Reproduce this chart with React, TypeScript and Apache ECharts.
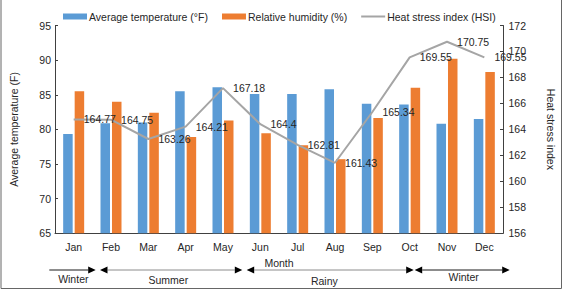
import React, { useEffect, useRef } from "react";
import * as echarts from "echarts";

const months = ["Jan", "Feb", "Mar", "Apr", "May", "Jun", "Jul", "Aug", "Sep", "Oct", "Nov", "Dec"];
const avgTemperature = [79.35, 80.9, 81.0, 85.5, 86.1, 85.1, 85.1, 85.8, 83.7, 83.6, 80.8, 81.5];
const relHumidity = [85.5, 84.0, 82.4, 78.9, 81.3, 79.45, 77.7, 75.7, 81.65, 86.0, 90.2, 88.3];
const heatStress = [164.77, 164.75, 163.26, 164.21, 167.18, 164.4, 162.81, 161.43, 165.34, 169.55, 170.75, 169.55];

const seriesNames = ["Average temperature (°F)", "Relative humidity (%)", "Heat stress index (HSI)"];

// Season bands below the month axis: [label, left tip, right tip, left head?, line colour, label x, label y]
const seasons: [string, number, number, boolean, string, number, number][] = [
  ["Winter", 49.3, 95.7, false, "#1a1a1a", 73.3, 279.3],
  ["Summer", 100, 242.3, true, "#8c8c8c", 168.3, 280],
  ["Rainy", 246.7, 413.7, true, "#8c8c8c", 324.3, 280.7],
  ["Winter", 414.7, 509.7, true, "#1a1a1a", 463.7, 277.3],
];

const FONT = "'Liberation Sans', Arial, sans-serif";
const TEXT = "#262626";
const FS = 10.5;

function seasonGraphics() {
  const out: any[] = [];
  const y = 270;
  const head = 7.5;
  const half = 3.5;
  seasons.forEach(([name, x0, x1, leftHead, col, tx, ty]) => {
    const ls = leftHead ? x0 + head : x0;
    const le = x1 - head;
    out.push({
      type: "line",
      shape: { x1: ls, y1: y, x2: le, y2: y },
      style: { stroke: col, lineWidth: 1 },
      silent: true,
    });
    out.push({
      type: "polygon",
      shape: { points: [[x1, y], [x1 - head, y - half], [x1 - head, y + half]] },
      style: { fill: "#000" },
      silent: true,
    });
    if (leftHead) {
      out.push({
        type: "polygon",
        shape: { points: [[x0, y], [x0 + head, y - half], [x0 + head, y + half]] },
        style: { fill: "#000" },
        silent: true,
      });
    }
    out.push({
      type: "text",
      x: tx,
      y: ty,
      style: {
        text: name,
        fill: TEXT,
        font: `${FS}px ${FONT}`,
        align: "center",
        verticalAlign: "middle",
      },
      silent: true,
    });
  });
  // frame around the figure
  out.push({
    type: "polyline",
    shape: { points: [[1, 0], [1, 288.5], [561.5, 288.5], [561.5, 0]] },
    style: { stroke: "#666", lineWidth: 1, fill: "none" },
    silent: true,
  });
  return out;
}

export default function App() {
  const ref = useRef<HTMLDivElement>(null);

  useEffect(() => {
    if (!ref.current) return;
    const chart = echarts.init(ref.current, undefined, { renderer: "svg" });
    chart.setOption({
      animation: false,
      backgroundColor: "#ffffff",
      textStyle: { fontFamily: FONT, color: TEXT },
      legend: {
        top: 6,
        left: 58,
        itemWidth: 24,
        itemHeight: 6,
        itemGap: 14,
        textStyle: { fontSize: FS, color: TEXT, fontFamily: FONT, padding: [0, 0, 0, -3] },
        data: [
          { name: seriesNames[0], icon: "rect" },
          { name: seriesNames[1], icon: "rect" },
          {
            name: seriesNames[2],
            icon: "path://M0,0 L24,0 L24,2 L0,2 Z",
            itemStyle: { color: "#A5A5A5" },
          },
        ],
      },
      grid: { left: 47.5, right: 57.5, top: 25.5, bottom: 56.7, containLabel: false },
      xAxis: {
        type: "category",
        data: months,
        name: "Month",
        nameLocation: "middle",
        nameGap: 20,
        nameTextStyle: { fontSize: FS, color: TEXT, fontFamily: FONT },
        axisLine: { lineStyle: { color: "#404040", width: 1 } },
        axisTick: { show: false },
        axisLabel: { fontSize: FS, color: TEXT, margin: 8, fontFamily: FONT },
      },
      yAxis: [
        {
          type: "value",
          min: 65,
          max: 95,
          interval: 5,
          position: "left",
          name: "Average temperature (F)",
          nameLocation: "middle",
          nameGap: 36,
          nameTextStyle: { fontSize: FS, color: TEXT, fontFamily: FONT },
          axisLine: { show: true, lineStyle: { color: "#404040", width: 1 } },
          axisTick: { show: true, inside: true, length: 3, lineStyle: { color: "#404040" } },
          axisLabel: { fontSize: FS, color: TEXT, margin: 4, fontFamily: FONT },
          splitLine: { show: false },
        },
        {
          type: "value",
          min: 156,
          max: 172,
          interval: 2,
          position: "right",
          name: "Heat stress index",
          nameLocation: "middle",
          nameRotate: -90,
          nameGap: 42,
          nameTextStyle: { fontSize: FS, color: TEXT, fontFamily: FONT },
          axisLine: { show: true, lineStyle: { color: "#404040", width: 1 } },
          axisTick: { show: true, inside: true, length: 3, lineStyle: { color: "#404040" } },
          axisLabel: { fontSize: FS, color: TEXT, margin: 5.5, fontFamily: FONT },
          splitLine: { show: false },
        },
      ],
      series: [
        {
          name: seriesNames[0],
          type: "bar",
          yAxisIndex: 0,
          data: avgTemperature,
          barWidth: 9.5,
          barGap: "21%",
          itemStyle: { color: "#5B9BD5" },
        },
        {
          name: seriesNames[1],
          type: "bar",
          yAxisIndex: 0,
          data: relHumidity,
          barWidth: 9.5,
          barGap: "21%",
          itemStyle: { color: "#ED7D31" },
        },
        {
          name: seriesNames[2],
          type: "line",
          yAxisIndex: 1,
          data: heatStress,
          symbol: "circle",
          symbolSize: 0.1,
          showSymbol: true,
          z: 5,
          lineStyle: { color: "#A5A5A5", width: 2 },
          itemStyle: { color: "#A5A5A5" },
          label: {
            show: true,
            position: "right",
            distance: 10,
            fontSize: FS,
            color: TEXT,
            fontFamily: FONT,
          },
          labelLayout: { hideOverlap: false },
        },
      ],
      graphic: seasonGraphics(),
    });
    return () => chart.dispose();
  }, []);

  return (
    <div
      ref={ref}
      style={{ position: "fixed", left: 0, top: 0, width: 564, height: 290 }}
    />
  );
}
